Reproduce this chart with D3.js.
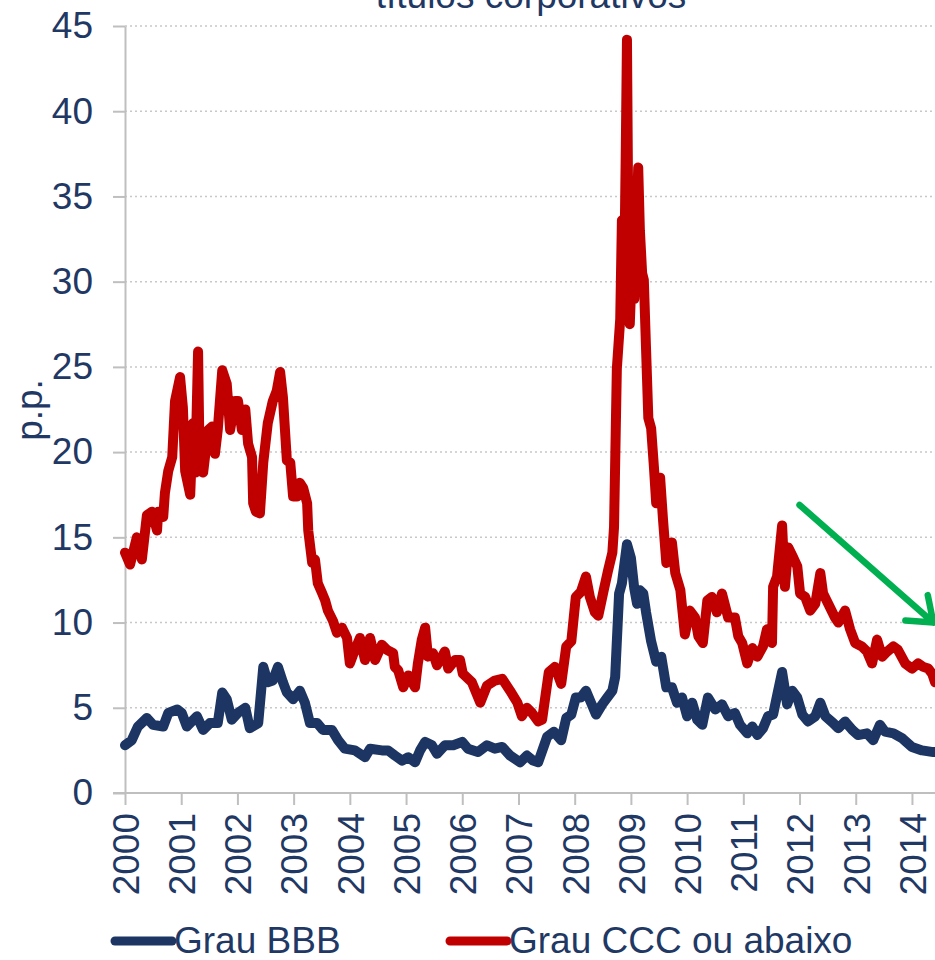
<!DOCTYPE html>
<html>
<head>
<meta charset="utf-8">
<script src="https://cdn.jsdelivr.net/npm/d3@7"></script>
<style>
  html, body { margin: 0; padding: 0; background: #fff; }
  svg { display: block; }
</style>
</head>
<body>
<div id="chart"></div>
<script>
// series: [fractional year, spread in p.p.]
var bbb = [
  [2000.00, 2.8], [2000.12, 3.1], [2000.23, 3.9], [2000.39, 4.4], [2000.50, 4.0],
  [2000.68, 3.9], [2000.77, 4.7], [2000.93, 4.9], [2001.01, 4.7], [2001.10, 3.9],
  [2001.28, 4.5], [2001.39, 3.7], [2001.51, 4.1], [2001.65, 4.1], [2001.73, 5.9],
  [2001.81, 5.5], [2001.90, 4.3], [2002.01, 4.7], [2002.14, 5.0], [2002.22, 3.8],
  [2002.37, 4.1], [2002.46, 7.4], [2002.54, 6.5], [2002.63, 6.6], [2002.72, 7.4],
  [2002.81, 6.5], [2002.88, 5.9], [2002.99, 5.5], [2003.11, 6.0], [2003.20, 5.3],
  [2003.29, 4.1], [2003.42, 4.1], [2003.52, 3.7], [2003.68, 3.7], [2003.79, 3.1],
  [2003.91, 2.6], [2004.09, 2.5], [2004.27, 2.1], [2004.36, 2.6], [2004.57, 2.5],
  [2004.68, 2.5], [2004.80, 2.2], [2004.93, 1.9], [2005.04, 2.1], [2005.16, 1.8],
  [2005.25, 2.5], [2005.34, 3.0], [2005.46, 2.8], [2005.55, 2.3], [2005.69, 2.8],
  [2005.84, 2.8], [2006.00, 3.0], [2006.10, 2.6], [2006.28, 2.4], [2006.44, 2.8],
  [2006.58, 2.6], [2006.71, 2.7], [2006.85, 2.2], [2007.03, 1.8], [2007.15, 2.2],
  [2007.26, 1.9], [2007.35, 1.8], [2007.51, 3.3], [2007.63, 3.6], [2007.76, 3.1],
  [2007.85, 4.4], [2007.94, 4.6], [2008.02, 5.6], [2008.11, 5.6], [2008.20, 6.0],
  [2008.29, 5.3], [2008.38, 4.6], [2008.49, 5.2], [2008.58, 5.6], [2008.67, 6.0],
  [2008.72, 6.8], [2008.79, 11.7], [2008.84, 12.3], [2008.93, 14.6], [2009.00, 13.8],
  [2009.06, 12.0], [2009.11, 11.1], [2009.16, 11.9], [2009.22, 11.7], [2009.27, 10.6],
  [2009.36, 8.9], [2009.45, 7.7], [2009.54, 8.0], [2009.63, 6.2], [2009.73, 6.2],
  [2009.82, 5.3], [2009.91, 5.6], [2010.00, 4.5], [2010.09, 5.3], [2010.18, 4.3],
  [2010.27, 4.0], [2010.37, 5.6], [2010.50, 4.9], [2010.62, 5.2], [2010.73, 4.5],
  [2010.85, 4.7], [2010.94, 4.0], [2011.07, 3.5], [2011.16, 3.9], [2011.25, 3.4],
  [2011.35, 3.8], [2011.44, 4.5], [2011.53, 4.6], [2011.60, 5.7], [2011.69, 7.1],
  [2011.78, 5.2], [2011.87, 6.0], [2011.96, 5.6], [2012.05, 4.6], [2012.15, 4.2],
  [2012.28, 4.5], [2012.37, 5.3], [2012.46, 4.5], [2012.60, 4.1], [2012.69, 3.8],
  [2012.81, 4.2], [2012.94, 3.7], [2013.04, 3.4], [2013.20, 3.5], [2013.31, 3.1],
  [2013.43, 4.0], [2013.52, 3.6], [2013.67, 3.5], [2013.83, 3.2], [2014.00, 2.7],
  [2014.18, 2.5], [2014.38, 2.4], [2014.41, 2.4]
];

var ccc = [
  [2000.00, 14.1], [2000.09, 13.4], [2000.21, 15.0], [2000.30, 13.7], [2000.39, 16.3],
  [2000.48, 16.5], [2000.57, 15.4], [2000.59, 16.5], [2000.68, 16.2], [2000.71, 17.6],
  [2000.77, 18.9], [2000.84, 19.7], [2000.89, 23.0], [2000.98, 24.4], [2001.03, 22.6],
  [2001.07, 18.9], [2001.16, 17.5], [2001.21, 21.7], [2001.25, 18.8], [2001.30, 25.9],
  [2001.33, 18.9], [2001.39, 18.8], [2001.48, 21.3], [2001.55, 21.5], [2001.60, 19.9],
  [2001.65, 21.3], [2001.73, 24.8], [2001.81, 24.0], [2001.87, 21.3], [2001.96, 23.0],
  [2002.01, 23.0], [2002.08, 21.3], [2002.14, 22.5], [2002.19, 20.5], [2002.26, 19.7],
  [2002.28, 17.0], [2002.33, 16.5], [2002.40, 16.4], [2002.46, 19.4], [2002.54, 21.7],
  [2002.63, 23.0], [2002.70, 23.6], [2002.76, 24.7], [2002.81, 23.2], [2002.88, 19.5],
  [2002.94, 19.4], [2002.99, 17.4], [2003.06, 17.4], [2003.11, 18.2], [2003.17, 17.9],
  [2003.24, 17.0], [2003.26, 15.4], [2003.33, 13.5], [2003.38, 13.7], [2003.43, 12.3],
  [2003.51, 11.7], [2003.56, 11.3], [2003.61, 10.7], [2003.70, 10.1], [2003.77, 9.4],
  [2003.86, 9.7], [2003.95, 9.1], [2004.00, 7.6], [2004.09, 8.4], [2004.18, 9.1],
  [2004.27, 7.8], [2004.36, 9.1], [2004.45, 7.8], [2004.57, 8.7], [2004.66, 8.4],
  [2004.77, 8.2], [2004.80, 7.4], [2004.86, 7.2], [2004.95, 6.2], [2005.04, 6.9],
  [2005.16, 6.2], [2005.21, 7.6], [2005.28, 9.0], [2005.34, 9.7], [2005.39, 8.0],
  [2005.48, 8.2], [2005.55, 7.5], [2005.69, 8.3], [2005.75, 7.3], [2005.87, 7.8],
  [2005.96, 7.8], [2006.01, 7.0], [2006.17, 6.5], [2006.32, 5.3], [2006.44, 6.3],
  [2006.58, 6.6], [2006.71, 6.7], [2006.85, 6.0], [2006.98, 5.3], [2007.06, 4.5],
  [2007.15, 5.0], [2007.24, 4.7], [2007.35, 4.2], [2007.42, 4.3], [2007.54, 7.1],
  [2007.65, 7.4], [2007.76, 6.4], [2007.85, 8.6], [2007.94, 8.9], [2008.02, 11.5],
  [2008.11, 11.8], [2008.20, 12.7], [2008.27, 11.5], [2008.36, 10.6], [2008.42, 10.4],
  [2008.51, 11.8], [2008.59, 13.0], [2008.67, 14.1], [2008.70, 15.6], [2008.75, 24.9],
  [2008.81, 27.8], [2008.84, 33.6], [2008.88, 30.0], [2008.91, 38.0], [2008.93, 44.2],
  [2008.95, 35.0], [2008.98, 27.5], [2009.02, 31.0], [2009.06, 29.0], [2009.09, 32.0],
  [2009.13, 36.7], [2009.16, 33.0], [2009.20, 30.5], [2009.23, 30.1], [2009.27, 26.0],
  [2009.31, 22.0], [2009.36, 21.4], [2009.41, 19.1], [2009.45, 17.0], [2009.52, 18.5],
  [2009.57, 16.1], [2009.63, 13.5], [2009.73, 14.7], [2009.79, 12.9], [2009.88, 11.9],
  [2009.96, 9.3], [2010.05, 10.7], [2010.14, 10.3], [2010.20, 9.2], [2010.28, 8.8],
  [2010.36, 11.3], [2010.44, 11.5], [2010.53, 10.6], [2010.62, 11.7], [2010.73, 10.3],
  [2010.85, 10.3], [2010.91, 9.2], [2010.98, 8.8], [2011.07, 7.6], [2011.16, 8.5],
  [2011.25, 8.0], [2011.35, 8.6], [2011.42, 9.6], [2011.51, 8.8], [2011.53, 12.1],
  [2011.60, 12.7], [2011.69, 15.7], [2011.74, 12.1], [2011.80, 14.4], [2011.89, 13.8],
  [2011.96, 13.3], [2012.01, 11.7], [2012.10, 11.5], [2012.19, 10.7], [2012.28, 11.1],
  [2012.37, 12.9], [2012.42, 11.7], [2012.51, 11.1], [2012.63, 10.3], [2012.69, 10.0],
  [2012.81, 10.7], [2012.90, 9.6], [2012.99, 8.8], [2013.11, 8.6], [2013.20, 8.3],
  [2013.29, 7.6], [2013.38, 9.0], [2013.47, 8.0], [2013.56, 8.3], [2013.67, 8.6],
  [2013.75, 8.4], [2013.88, 7.6], [2014.00, 7.3], [2014.11, 7.6], [2014.20, 7.4],
  [2014.29, 7.3], [2014.36, 7.0], [2014.41, 6.5]
];

var years = d3.range(2000, 2015);
var yTicks = d3.range(0, 46, 5);
var seriesNames = ['Grau BBB', 'Grau CCC ou abaixo'];
var trendArrow = [[2012.0, 16.9], [2014.38, 10.0]];   // green annotation arrow

var width = 935, height = 960;
var navy = '#1C3563', red = '#C00000', grid = '#BFBFBF', textColor = '#1F3864';
var font = '"Liberation Sans", Arial, sans-serif';

var x = d3.scaleLinear().domain([2000, 2014.41]).range([125, 935]);
var y = d3.scaleLinear().domain([0, 45]).range([793, 26]);

var svg = d3.select('#chart').append('svg')
    .attr('width', width)
    .attr('height', height)
    .style('font-family', font);

// title (its top is cut off in the original)
svg.append('text')
    .attr('x', 531).attr('y', 8)
    .attr('text-anchor', 'middle')
    .style('font-size', '37px')
    .style('fill', textColor)
    .text('títulos corporativos');

// dotted gridlines
svg.append('g').selectAll('line')
    .data(yTicks.filter(function (d) { return d > 0; }))
    .enter().append('line')
    .attr('x1', 125).attr('x2', width)
    .attr('y1', function (d) { return y(d); })
    .attr('y2', function (d) { return y(d); })
    .style('stroke', '#C8C8C8')
    .style('stroke-width', 1.5)
    .style('stroke-dasharray', '2,3');

// y axis
var yAxis = svg.append('g')
    .attr('transform', 'translate(125,0)')
    .call(d3.axisLeft(y).tickValues(yTicks).tickSize(12).tickPadding(20).tickSizeOuter(0));
yAxis.select('.domain').style('stroke', grid).style('stroke-width', 2);
yAxis.selectAll('.tick line').style('stroke', grid).style('stroke-width', 2);
yAxis.selectAll('.tick text')
    .style('font-size', '37px')
    .style('font-family', font)
    .style('fill', textColor);

// x axis
var xAxis = svg.append('g')
    .attr('transform', 'translate(0,793)')
    .call(d3.axisBottom(x).tickValues(years).tickSize(12).tickSizeOuter(0).tickFormat(d3.format('d')));
xAxis.select('.domain').attr('d', 'M113,0H' + width).style('stroke', grid).style('stroke-width', 2);
xAxis.selectAll('.tick line').style('stroke', grid).style('stroke-width', 2);
xAxis.selectAll('.tick text')
    .attr('transform', 'rotate(-90)')
    .attr('x', -20).attr('y', 0).attr('dy', '0.36em')
    .style('text-anchor', 'end')
    .style('font-size', '37px')
    .style('font-family', font)
    .style('fill', textColor);

// y axis title
svg.append('text')
    .attr('transform', 'translate(42,410) rotate(-90)')
    .attr('text-anchor', 'middle')
    .style('font-size', '37px')
    .style('fill', textColor)
    .text('p.p.');

// lines
var line = d3.line()
    .x(function (d) { return x(d[0]); })
    .y(function (d) { return y(d[1]); });

var plot = svg.append('g');
plot.append('path')
    .datum(bbb)
    .attr('d', line)
    .style('fill', 'none')
    .style('stroke', navy)
    .style('stroke-width', 10)
    .style('stroke-linejoin', 'round')
    .style('stroke-linecap', 'round');

plot.append('path')
    .datum(ccc)
    .attr('d', line)
    .style('fill', 'none')
    .style('stroke', red)
    .style('stroke-width', 10)
    .style('stroke-linejoin', 'round')
    .style('stroke-linecap', 'round');

// green trend arrow
var a0 = [x(trendArrow[0][0]), y(trendArrow[0][1])];
var a1 = [x(trendArrow[1][0]), y(trendArrow[1][1])];
var ang = Math.atan2(a1[1] - a0[1], a1[0] - a0[0]);
var headLen = 28, headAng = 0.65;
var h1 = [a1[0] - headLen * Math.cos(ang - headAng), a1[1] - headLen * Math.sin(ang - headAng)];
var h2 = [a1[0] - headLen * Math.cos(ang + headAng), a1[1] - headLen * Math.sin(ang + headAng)];
svg.append('path')
    .attr('d', 'M' + a0 + 'L' + a1 + 'M' + h1 + 'L' + a1 + 'L' + h2)
    .style('fill', 'none')
    .style('stroke', '#00B050')
    .style('stroke-width', 6.5)
    .style('stroke-linecap', 'round')
    .style('stroke-linejoin', 'round');

// legend
var legend = svg.append('g').selectAll('g')
    .data(seriesNames)
    .enter().append('g')
    .attr('transform', function (d, i) { return 'translate(' + (i === 0 ? 115 : 450) + ',941)'; });
legend.append('line')
    .attr('x1', 0).attr('x2', 57)
    .style('stroke', function (d, i) { return i === 0 ? navy : red; })
    .style('stroke-width', 9)
    .style('stroke-linecap', 'round');
legend.append('text')
    .attr('x', 59).attr('y', 12)
    .style('font-size', '37px')
    .style('fill', textColor)
    .text(function (d) { return d; });
</script>
</body>
</html>
